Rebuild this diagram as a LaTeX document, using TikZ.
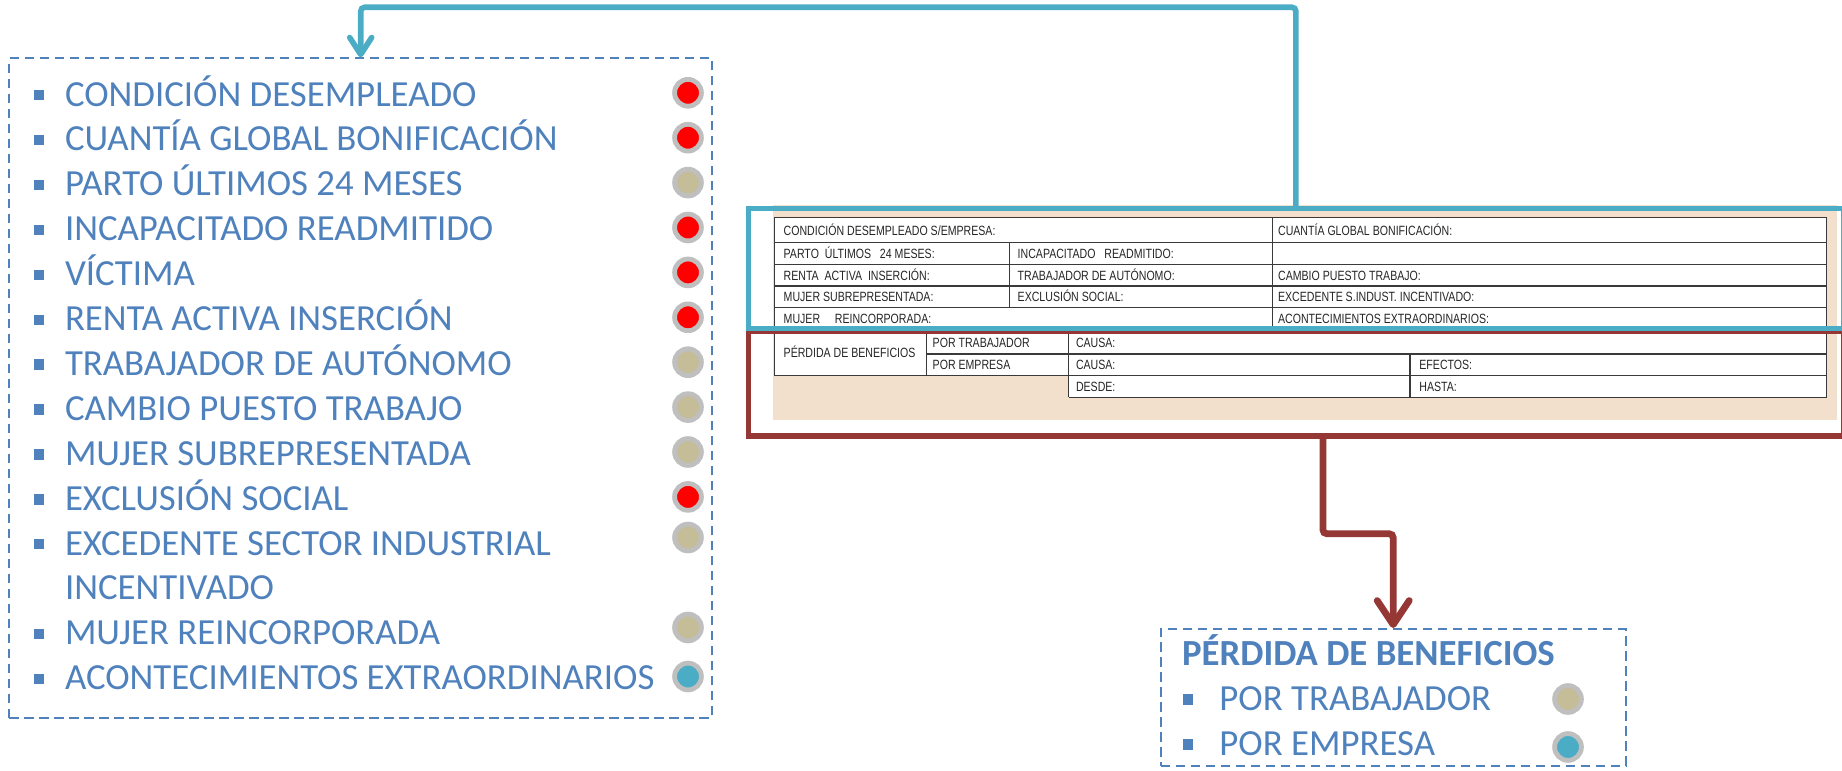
\documentclass[tikz,border=0pt]{standalone}
\usepackage{fontspec}
\setmainfont{Carlito}
\newfontfamily\tabfont[FakeStretch=0.79]{Liberation Sans}
\usetikzlibrary{arrows.meta,fit,calc}
\definecolor{txtblue}{HTML}{4F81BD}
\definecolor{connblue}{HTML}{4BACC6}
\definecolor{connred}{HTML}{953735}
\definecolor{peach}{HTML}{F2DFCC}
\definecolor{ringgrey}{HTML}{BFBFBF}
\definecolor{dotred}{HTML}{FF0000}
\definecolor{dottan}{HTML}{C4BD97}
\definecolor{dotteal}{HTML}{4BACC6}
\definecolor{gridline}{HTML}{3A3A3A}
\tikzset{
  listtext/.style={anchor=base west, inner sep=0, text=txtblue, font=\fontsize{18.4}{22}\selectfont},
  boldtext/.style={anchor=base west, inner sep=0, text=txtblue, font=\fontsize{18.4}{22}\selectfont\bfseries},
  sqbullet/.style={fill=txtblue, minimum size=5.2pt, inner sep=0},
  dotbase/.style={circle, draw=ringgrey, line width=2.4pt, minimum size=13.4pt, inner sep=0},
  dr/.style={dotbase, fill=dotred},
  dt/.style={dotbase, fill=dottan},
  dc/.style={dotbase, fill=dotteal},
  dashbox/.style={draw=txtblue, line width=1pt, dash pattern=on 4.7pt off 2.8pt, inner sep=0},
  tabtxt/.style={anchor=base west, inner sep=0, text=black!85, font=\tabfont\fontsize{6.7}{7}\selectfont},
  grid/.style={draw=gridline, line width=0.6pt},
  bluebox/.style={draw=connblue, line width=2.75pt, inner sep=0},
  redbox/.style={draw=connred, line width=2.75pt, inner sep=0},
  blueconn/.style={draw=connblue, line width=2.8pt, rounded corners=2pt, line cap=round,
    -{Straight Barb[length=8.5pt,width=11pt,round]}},
  redconn/.style={draw=connred, line width=3.4pt, rounded corners=2pt, line cap=round,
    -{Straight Barb[length=12pt,width=16pt,round]}},
}
\begin{document}
\begin{tikzpicture}[x=0.5pt,y=-0.5pt]
\useasboundingbox (0,0) rectangle (1842,771);

% ---------- form image ----------
\fill[peach] (772.7,205) rectangle (1836.7,420);
\fill[white] (774.3,217.7) rectangle (1826.7,375.7);
\fill[white] (1068.6,375.7) rectangle (1826.7,397.3);
% horizontal rules
\draw[grid] (774.3,217.7) -- (1826.7,217.7);
\draw[grid] (774.3,242.3) -- (1826.7,242.3);
\draw[grid] (774.3,264.3) -- (1826.7,264.3);
\draw[grid] (774.3,286) -- (1826.7,286);
\draw[grid] (774.3,307.7) -- (1826.7,307.7);
\draw[grid] (774.3,330.5) -- (1826.7,330.5);
\draw[grid] (926.7,354) -- (1826.7,354);
\draw[grid] (774.3,375.7) -- (1826.7,375.7);
\draw[grid] (1068.6,397.3) -- (1826.7,397.3);
% vertical rules
\draw[grid] (774.3,217.7) -- (774.3,375.7);
\draw[grid] (1826.7,217.7) -- (1826.7,397.3);
\draw[grid] (1272.7,217.7) -- (1272.7,330.5);
\draw[grid] (1009.3,242.3) -- (1009.3,307.7);
\draw[grid] (926.7,330.5) -- (926.7,375.7);
\draw[grid] (1068.6,330.5) -- (1068.6,397.3);
\draw[grid] (1410,354) -- (1410,397.3);
% form texts
\node[tabtxt] (f1) at (783.3,235) {CONDICIÓN DESEMPLEADO S/EMPRESA:};
\node[tabtxt] (f2) at (1277.7,235) {CUANTÍA GLOBAL BONIFICACIÓN:};
\node[tabtxt] (f3) at (783.3,258) {PARTO\ \ ÚLTIMOS\ \ \ 24 MESES:};
\node[tabtxt] (f4) at (1017.3,258) {INCAPACITADO\ \ \ READMITIDO:};
\node[tabtxt] (f5) at (783.3,280) {RENTA\ \ ACTIVA\ \ INSERCIÓN:};
\node[tabtxt] (f6) at (1017.3,280) {TRABAJADOR DE AUTÓNOMO:};
\node[tabtxt] (f7) at (1277.7,280) {CAMBIO PUESTO TRABAJO:};
\node[tabtxt] (f8) at (783.3,301.6) {MUJER SUBREPRESENTADA:};
\node[tabtxt] (f9) at (1017.3,301.6) {EXCLUSIÓN SOCIAL:};
\node[tabtxt] (f10) at (1277.7,301.6) {EXCEDENTE S.INDUST. INCENTIVADO:};
\node[tabtxt] (f11) at (783.3,323.8) {MUJER\ \ \ \ \ REINCORPORADA:};
\node[tabtxt] (f12) at (1277.7,323.8) {ACONTECIMIENTOS EXTRAORDINARIOS:};
\node[tabtxt] (f13) at (783.3,357.8) {PÉRDIDA DE BENEFICIOS};
\node[tabtxt] (f14) at (932.3,347) {POR TRABAJADOR};
\node[tabtxt] (f15) at (932.3,369.6) {POR EMPRESA};
\node[tabtxt] (f16) at (1075.6,347) {CAUSA:};
\node[tabtxt] (f17) at (1075.6,369.6) {CAUSA:};
\node[tabtxt] (f18) at (1419,369.6) {EFECTOS:};
\node[tabtxt] (f19) at (1075.6,391.2) {DESDE:};
\node[tabtxt] (f20) at (1419,391.2) {HASTA:};

% ---------- highlight frames ----------
\node[redbox, fit={(748.3,331.5) (1843.5,436)}] (redframe) {};
\node[bluebox, fit={(748.3,208.3) (1843.5,328.7)}] (blueframe) {};

% ---------- left list ----------
\node[dashbox, fit={(9.4,58.3) (712,717.7)}] (leftbox) {};

\node[sqbullet] (b0) at (38.8,95.2) {};
\node[listtext] (t0) at (64.6,106) {CONDICIÓN DESEMPLEADO};
\node[dr] (c0) at (688,92.8) {};
\node[sqbullet] (b1) at (38.8,140.1) {};
\node[listtext] (t1) at (64.6,150.9) {CUANTÍA GLOBAL BONIFICACIÓN};
\node[dr] (c1) at (688,137.7) {};
\node[sqbullet] (b2) at (38.8,185) {};
\node[listtext] (t2) at (64.6,195.8) {PARTO ÚLTIMOS 24 MESES};
\node[dt] (c2) at (688,182.6) {};
\node[sqbullet] (b3) at (38.8,229.9) {};
\node[listtext] (t3) at (64.6,240.7) {INCAPACITADO READMITIDO};
\node[dr] (c3) at (688,227.5) {};
\node[sqbullet] (b4) at (38.8,274.8) {};
\node[listtext] (t4) at (64.6,285.6) {VÍCTIMA};
\node[dr] (c4) at (688,272.4) {};
\node[sqbullet] (b5) at (38.8,319.7) {};
\node[listtext] (t5) at (64.6,330.5) {RENTA ACTIVA INSERCIÓN};
\node[dr] (c5) at (688,317.3) {};
\node[sqbullet] (b6) at (38.8,364.6) {};
\node[listtext] (t6) at (64.6,375.4) {TRABAJADOR DE AUTÓNOMO};
\node[dt] (c6) at (688,362.2) {};
\node[sqbullet] (b7) at (38.8,409.5) {};
\node[listtext] (t7) at (64.6,420.3) {CAMBIO PUESTO TRABAJO};
\node[dt] (c7) at (688,407.1) {};
\node[sqbullet] (b8) at (38.8,454.4) {};
\node[listtext] (t8) at (64.6,465.2) {MUJER SUBREPRESENTADA};
\node[dt] (c8) at (688,452) {};
\node[sqbullet] (b9) at (38.8,499.3) {};
\node[listtext] (t9) at (64.6,510.1) {EXCLUSIÓN SOCIAL};
\node[dr] (c9) at (688,496.9) {};
\node[sqbullet] (b10) at (38.8,544.2) {};
\node[listtext] (t10) at (64.6,555) {EXCEDENTE SECTOR INDUSTRIAL};
\node[dt] (c10) at (688,537.5) {};
\node[listtext] (t11) at (64.6,599.9) {INCENTIVADO};
\node[sqbullet] (b12) at (38.8,634) {};
\node[listtext] (t12) at (64.6,644.8) {MUJER REINCORPORADA};
\node[dt] (c12) at (688,627.5) {};
\node[sqbullet] (b13) at (38.8,678.9) {};
\node[listtext] (t13) at (64.6,689.7) {ACONTECIMIENTOS EXTRAORDINARIOS};
\node[dc] (c13) at (688,676.5) {};

% ---------- bottom box ----------
\node[dashbox, fit={(1160.7,629) (1625.7,765.7)}] (bottombox) {};
\node[boldtext] (h1) at (1181.7,665) {PÉRDIDA DE BENEFICIOS};
\node[sqbullet] (bb1) at (1188,699.3) {};
\node[listtext] (p1) at (1219,710.5) {POR TRABAJADOR};
\node[dt] (pc1) at (1568,699) {};
\node[sqbullet] (bb2) at (1188,744.5) {};
\node[listtext] (p2) at (1219,755.7) {POR EMPRESA};
\node[dc] (pc2) at (1568,747) {};

% ---------- connectors ----------
\draw[blueconn] (blueframe.north) -- ++(0,-198.3) -| (leftbox.north);
\draw[redconn] ($(redframe.south)+(27,0)$) -- ++(0,95) -| (bottombox.north);
\end{tikzpicture}
\end{document}
